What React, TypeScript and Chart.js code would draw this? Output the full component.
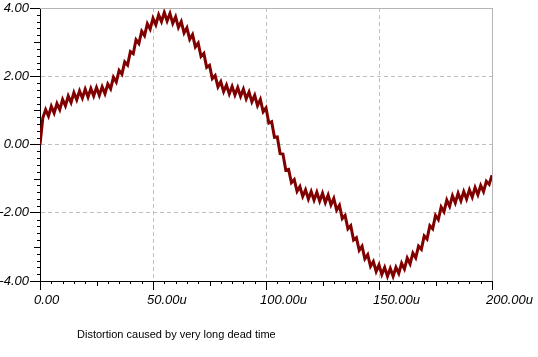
import React, { useEffect, useRef } from "react";
import { Chart, registerables } from "chart.js";

Chart.register(...registerables);

// Sample spacing of the waveform, in microseconds
const sampleStepUs = 1.25;

// Output voltage, one value per sample (0 .. 200u)
const voltage: number[] = [
  0.0, 0.78, 1.02, 0.83, 1.12, 0.92, 1.2, 1.02, 1.32, 1.13,
  1.42, 1.23, 1.52, 1.31, 1.57, 1.36, 1.62, 1.39, 1.64, 1.42,
  1.67, 1.44, 1.69, 1.49, 1.77, 1.63, 1.97, 1.83, 2.17, 2.06,
  2.42, 2.33, 2.72, 2.66, 3.07, 2.96, 3.32, 3.19, 3.54, 3.38,
  3.7, 3.51, 3.8, 3.6, 3.87, 3.62, 3.84, 3.55, 3.74, 3.43,
  3.6, 3.27, 3.42, 3.08, 3.22, 2.86, 2.97, 2.58, 2.67, 2.26,
  2.32, 1.93, 2.02, 1.69, 1.84, 1.55, 1.74, 1.48, 1.7, 1.45,
  1.67, 1.41, 1.62, 1.34, 1.54, 1.25, 1.44, 1.14, 1.32, 0.96,
  1.07, 0.63, 0.67, 0.21, 0.22, -0.27, -0.28, -0.75, -0.73, -1.12,
  -1.03, -1.37, -1.23, -1.52, -1.33, -1.6, -1.38, -1.63, -1.4, -1.66,
  -1.43, -1.7, -1.48, -1.77, -1.58, -1.92, -1.78, -2.17, -2.08, -2.47,
  -2.38, -2.8, -2.73, -3.1, -2.98, -3.35, -3.23, -3.57, -3.43, -3.72,
  -3.53, -3.81, -3.6, -3.86, -3.63, -3.86, -3.6, -3.78, -3.48, -3.65,
  -3.33, -3.5, -3.18, -3.32, -2.98, -3.07, -2.68, -2.77, -2.38, -2.47,
  -2.08, -2.2, -1.83, -1.97, -1.63, -1.81, -1.5, -1.71, -1.43, -1.65,
  -1.38, -1.6, -1.33, -1.54, -1.26, -1.47, -1.2, -1.38, -1.08, -1.17,
  -0.9,
];

const xTicks = [0, 50, 100, 150, 200];
const xTickLabels = ["0.00", "50.00u", "100.00u", "150.00u", "200.00u"];
const yTicks = [-4, -2, 0, 2, 4];
const yTickLabels = ["-4.00", "-2.00", "0.00", "2.00", "4.00"];
const caption = "Distortion caused by very long dead time";

const lineColor = "#800000";
const gridColor = "#c0c0c0";
const frameColor = "#b4b4b4";

const framePlugin = {
  id: "frame",
  afterDraw(chart: any) {
    const { ctx, chartArea: a, scales } = chart;
    const x = scales.x;
    const y = scales.y;
    ctx.save();
    ctx.strokeStyle = frameColor;
    ctx.lineWidth = 1;
    ctx.beginPath();
    ctx.moveTo(a.left, Math.round(a.top) + 0.5);
    ctx.lineTo(Math.round(a.right) + 0.5, Math.round(a.top) + 0.5);
    ctx.moveTo(Math.round(a.right) + 0.5, a.top);
    ctx.lineTo(Math.round(a.right) + 0.5, a.bottom);
    ctx.stroke();
    ctx.strokeStyle = "#000";
    ctx.beginPath();
    for (let k = 0; k <= 40; k++) {
      if (k % 10 === 0) continue;
      const v = -4 + k * 0.2;
      const len = k % 5 === 0 ? 6 : 3;
      const py = Math.round(y.getPixelForValue(v)) + 0.5;
      ctx.moveTo(a.left - len, py);
      ctx.lineTo(a.left, py);
    }
    for (let k = 0; k <= 40; k++) {
      if (k % 10 === 0) continue;
      const v = k * 5;
      const len = k % 5 === 0 ? 5 : 3;
      const px = Math.round(x.getPixelForValue(v)) + 0.5;
      ctx.moveTo(px, a.bottom);
      ctx.lineTo(px, a.bottom + len);
    }
    ctx.stroke();
    ctx.fillStyle = "#000";
    ctx.font = '11px "Liberation Sans", Arial, sans-serif';
    ctx.textBaseline = "alphabetic";
    ctx.textAlign = "left";
    ctx.fillText(caption, 77, 338);
    ctx.restore();
  },
};

export default function App() {
  const ref = useRef<HTMLCanvasElement | null>(null);

  useEffect(() => {
    if (!ref.current) return;
    const points = voltage.map((v, i) => ({ x: i * sampleStepUs, y: v }));
    const tickFont = { family: '"Liberation Sans", Arial, sans-serif', size: 13, style: "italic" as const };
    const chart = new Chart(ref.current, {
      type: "line",
      data: {
        datasets: [
          {
            data: points,
            borderColor: lineColor,
            backgroundColor: lineColor,
            borderWidth: 3,
            borderJoinStyle: "miter",
            pointRadius: 0,
            tension: 0,
            fill: false,
          },
        ],
      },
      options: {
        animation: false,
        responsive: false,
        devicePixelRatio: 1,
        layout: { padding: { top: 8, right: 46, bottom: 0, left: 0 } },
        plugins: { legend: { display: false }, tooltip: { enabled: false }, title: { display: false } },
        scales: {
          x: {
            type: "linear",
            min: 0,
            max: 200,
            afterBuildTicks: (s: any) => {
              s.ticks = xTicks.map((v) => ({ value: v }));
            },
            afterFit: (s: any) => {
              s.height = 76;
              s.paddingLeft = 0;
              s.paddingRight = 0;
            },
            ticks: {
              autoSkip: false,
              maxRotation: 0,
              align: "start",
              labelOffset: -6,
              padding: 3,
              color: "#000",
              font: tickFont,
              callback: (v: any) => xTickLabels[xTicks.indexOf(Number(v))] ?? "",
            },
            grid: {
              color: (c: any) => (c.tick && (c.tick.value === 0 || c.tick.value === 200) ? "rgba(0,0,0,0)" : gridColor),
              tickColor: "#000",
              tickLength: 9,
              lineWidth: 1,
            },
            border: { display: true, color: "#000", width: 1, dash: [4, 3] },
          },
          y: {
            type: "linear",
            min: -4,
            max: 4,
            afterBuildTicks: (s: any) => {
              s.ticks = yTicks.map((v) => ({ value: v }));
            },
            afterFit: (s: any) => {
              s.width = 40;
              s.paddingTop = 0;
              s.paddingBottom = 0;
            },
            ticks: {
              autoSkip: false,
              padding: 1,
              color: "#000",
              font: tickFont,
              callback: (v: any) => yTickLabels[yTicks.indexOf(Number(v))] ?? "",
            },
            grid: {
              color: (c: any) => (c.tick && Math.abs(c.tick.value) === 4 ? "rgba(0,0,0,0)" : gridColor),
              tickColor: "#000",
              tickLength: 10,
              lineWidth: 1,
            },
            border: { display: true, color: "#000", width: 1, dash: [4, 3] },
          },
        },
      },
      plugins: [framePlugin],
    });
    return () => chart.destroy();
  }, []);

  return (
    <div style={{ position: "fixed", left: 0, top: 0, width: 538, height: 357, background: "#fff" }}>
      <canvas ref={ref} width={538} height={357} style={{ width: 538, height: 357, display: "block" }} />
    </div>
  );
}
